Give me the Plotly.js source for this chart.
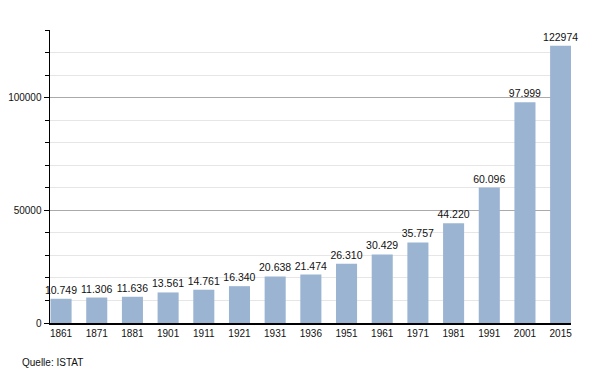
<!DOCTYPE html>
<html>
<head>
<meta charset="utf-8">
<script src="https://cdn.plot.ly/plotly-3.0.1.min.js"></script>
<style>html,body{margin:0;padding:0;background:#fff;}#chart{width:600px;height:373px;}</style>
</head>
<body>
<div id="chart"></div>
<script>
const years = ["1861","1871","1881","1901","1911","1921","1931","1936","1951","1961","1971","1981","1991","2001","2015"];
const population = [10749,11306,11636,13561,14761,16340,20638,21474,26310,30429,35757,44220,60096,97999,122974];
const valueLabels = ["10.749","11.306","11.636","13.561","14.761","16.340","20.638","21.474","26.310","30.429","35.757","44.220","60.096","97.999","122974"];

const trace = {
  type: "bar",
  x: years,
  y: population,
  text: valueLabels,
  textposition: "outside",
  constraintext: "none",
  textangle: 0,
  textfont: {family: "Liberation Sans, Arial, sans-serif", size: 10.5, color: "#111"},
  outsidetextfont: {family: "Liberation Sans, Arial, sans-serif", size: 10.5, color: "#111"},
  cliponaxis: false,
  marker: {color: "#9ab4d2", line: {width: 0}},
  width: 0.59,
  hoverinfo: "x+y"
};

const layout = {
  width: 600, height: 373,
  margin: {l: 50, r: 29, t: 30, b: 50},
  paper_bgcolor: "#fff", plot_bgcolor: "#fff",
  font: {family: "Liberation Sans, Arial, sans-serif", size: 10, color: "#111"},
  showlegend: false,
  bargap: 0.41,
  xaxis: {
    type: "category",
    range: [-0.31, 14.29],
    showline: true, linecolor: "#000", linewidth: 1.5,
    showgrid: false, ticks: "", zeroline: false,
    tickfont: {size: 10}
  },
  yaxis: {
    range: [0, 130000],
    dtick: 50000, tick0: 0,
    showline: true, linecolor: "#000", linewidth: 1.5,
    ticks: "outside", ticklen: 5, tickcolor: "#000",
    gridcolor: "#aaaaaa", gridwidth: 1,
    zeroline: false,
    tickformat: "d",
    tickfont: {size: 10},
    minor: {dtick: 10000, tick0: 0, showgrid: true, gridcolor: "#e6e6e6", gridwidth: 1, ticks: "outside", ticklen: 4, tickcolor: "#000"}
  },
  annotations: [{
    text: "Quelle: ISTAT", xref: "paper", yref: "paper",
    x: (20 - 50) / 521, y: -(355 - 323) / 293, xanchor: "left", yanchor: "top",
    showarrow: false, font: {size: 10, color: "#111"}
  }]
};

Plotly.newPlot("chart", [trace], layout, {displayModeBar: false, staticPlot: true});
</script>
</body>
</html>
